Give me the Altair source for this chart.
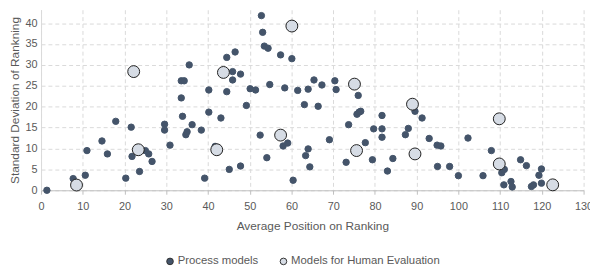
import altair as alt
import pandas as pd

# Process models (average position, std deviation)
proc_x = [1.4, 7.7, 10.6, 11.0, 14.6, 15.9, 17.9, 20.3, 21.6, 21.8, 23.6, 25.0, 25.8, 26.6,
          29.6, 29.6, 30.9, 33.6, 33.6, 34.3, 35.5, 33.9, 34.7, 35.0, 36.2, 38.4, 39.2, 40.2,
          40.2, 41.7, 43.1, 44.5, 46.5, 45.9, 45.9, 47.8, 44.5, 45.1, 47.8, 49.2, 50.1, 51.4,
          52.8, 53.1, 53.5, 54.4, 52.5, 54.1, 54.8, 57.4, 60.1, 58.0, 59.1, 58.4, 60.4, 61.5,
          63.1, 64.0, 65.4, 67.3, 66.4, 63.4, 64.0, 64.4, 69.1, 70.4, 70.7, 73.1, 73.7, 76.0,
          75.7, 76.2, 76.6, 77.7, 79.4, 79.7, 81.7, 81.7, 81.7, 83.0, 84.3, 88.0, 87.3, 89.6,
          91.3, 93.0, 94.9, 95.8, 95.0, 97.9, 100.0, 102.3, 105.9, 107.9, 110.4, 111.0, 110.9,
          112.6, 112.9, 114.9, 116.3, 117.5, 118.0, 119.3, 119.9, 119.9]
proc_y = [0.0, 2.8, 3.6, 9.5, 11.8, 8.7, 16.5, 2.9, 15.1, 8.1, 4.5, 9.5, 8.7, 6.9,
          15.8, 14.4, 10.8, 22.1, 26.2, 26.2, 30.0, 17.7, 13.3, 14.0, 15.7, 14.4, 2.9, 24.0,
          18.7, 10.5, 17.3, 31.8, 33.1, 28.4, 26.4, 27.8, 23.6, 5.0, 5.8, 20.3, 24.3, 24.0,
          41.8, 37.8, 34.5, 34.0, 13.2, 7.8, 25.3, 32.4, 31.5, 10.6, 11.3, 24.5, 2.4, 23.9,
          20.5, 24.2, 26.4, 25.2, 20.1, 8.3, 9.9, 5.6, 12.1, 26.2, 24.1, 6.7, 15.7, 22.7,
          18.2, 18.7, 18.9, 11.4, 7.3, 14.7, 17.9, 14.7, 12.7, 4.6, 7.6, 14.8, 13.3, 18.9,
          17.3, 12.4, 10.8, 10.6, 5.7, 5.7, 3.5, 12.5, 3.5, 9.5, 4.2, 5.0, 1.3,
          2.1, 0.8, 7.3, 5.9, 0.9, 1.3, 3.6, 5.1, 1.7]

# Models for human evaluation
human_x = [8.5, 22.2, 23.3, 42.1, 43.7, 57.4, 60.1, 75.1, 75.6, 89.0, 89.6, 109.8, 109.8, 122.6]
human_y = [1.25, 28.4, 9.7, 9.7, 28.2, 13.2, 39.3, 25.4, 9.5, 20.6, 8.7, 17.1, 6.3, 1.3]

series_names = ["Process models", "Models for Human Evaluation"]

df = pd.concat([
    pd.DataFrame({"x": proc_x, "y": proc_y, "series": series_names[0]}),
    pd.DataFrame({"x": human_x, "y": human_y, "series": series_names[1]}),
], ignore_index=True)

FONT = "Liberation Sans"
TXT = "#595959"

base = alt.Chart(df).encode(
    x=alt.X("x:Q", title="Average Position on Ranking",
            scale=alt.Scale(domain=[0, 130], nice=False),
            axis=alt.Axis(values=list(range(0, 131, 10)), tickSize=4, tickColor="#BFBFBF",
                          domainColor="#BFBFBF", labelPadding=7, titlePadding=9,
                          labelFlush=False)),
    y=alt.Y("y:Q", title="Standard Deviation of Rankning",
            scale=alt.Scale(domain=[0, 43.2], nice=False),
            axis=alt.Axis(values=list(range(0, 45, 5)), ticks=False, domainColor="#D9D9D9",
                          labelPadding=4, titlePadding=4)),
    color=alt.Color("series:N",
                    scale=alt.Scale(domain=series_names, range=["#44546A", "#D6DCE5"]),
                    legend=alt.Legend(
                        title=None, orient="none", direction="horizontal",
                        legendX=125, legendY=249,
                        labelFont=FONT, labelFontSize=11.5, labelColor=TXT, symbolSize=45,
                        symbolType="circle", symbolFillColor="#44546A",
                        symbolStrokeWidth=1, symbolStrokeColor="#333333",
                        columnPadding=19, labelOffset=2)),
)

proc_layer = base.transform_filter(alt.datum.series == series_names[0]).mark_circle(
    size=42, opacity=1, stroke="#44546A", strokeWidth=1)
human_layer = base.transform_filter(alt.datum.series == series_names[1]).mark_circle(
    size=145, opacity=1, stroke="#1F1F1F", strokeWidth=1)

chart = alt.layer(proc_layer, human_layer).properties(
    width=550, height=183,
    autosize=alt.AutoSizeParams(type="none"),
    padding={"left": 33.5, "top": 0, "right": 6.5, "bottom": 76},
).configure_axis(
    labelFont=FONT, titleFont=FONT, labelFontSize=11, titleFontSize=12,
    labelColor=TXT, titleColor=TXT, titleFontWeight="normal",
    grid=True, gridColor="#D9D9D9", gridDash=[4, 3], gridWidth=1,
).configure_view(stroke=None)

chart.save("out.html", embed_options={"renderer": "svg", "actions": False})
